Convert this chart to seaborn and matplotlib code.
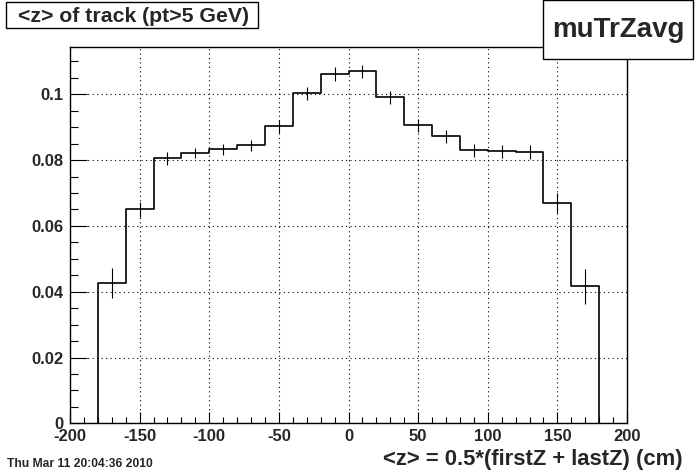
import matplotlib
matplotlib.use("Agg")
import matplotlib.pyplot as plt
from matplotlib.ticker import MultipleLocator
import seaborn as sns
import numpy as np
import pandas as pd

# bin edges of the <z> histogram (cm)
bin_edges = [-180, -160, -140, -120, -100, -80, -60, -40, -20, 0,
             20, 40, 60, 80, 100, 120, 140, 160, 180]
# normalised contents and errors
contents = [0.0426, 0.0650, 0.0805, 0.0821, 0.0833, 0.0845, 0.0903, 0.1003, 0.1062,
            0.1070, 0.0991, 0.0906, 0.0872, 0.0830, 0.0827, 0.0824, 0.0669, 0.0416]
errors = [0.0046, 0.0024, 0.0020, 0.0016, 0.0016, 0.0016, 0.0019, 0.0020, 0.0020,
          0.0020, 0.0020, 0.0020, 0.0020, 0.0020, 0.0020, 0.0022, 0.0030, 0.0054]
x_ticks = [-200, -150, -100, -50, 0, 50, 100, 150, 200]
y_ticks = [0, 0.02, 0.04, 0.06, 0.08, 0.1]
y_ticklabels = ["0", "0.02", "0.04", "0.06", "0.08", "0.1"]

edges = np.array(bin_edges, dtype=float)
centers = 0.5 * (edges[:-1] + edges[1:])
df = pd.DataFrame({"z": centers, "w": contents, "err": errors})

sns.set_style("white")
plt.rcParams["font.family"] = ["Liberation Sans", "DejaVu Sans"]
plt.rcParams["font.weight"] = "bold"
plt.rcParams["axes.unicode_minus"] = False

fig = plt.figure(figsize=(6.96, 4.72), dpi=100)
ax = fig.add_axes([70 / 696, 1 - 423.3 / 472, 557 / 696, 376 / 472])

sns.histplot(data=df, x="z", weights="w", bins=list(bin_edges), element="step", fill=False,
             color="black", linewidth=1.2, ax=ax)
# outer edges of the histogram go down to zero
ax.vlines([edges[0], edges[-1]], 0, [contents[0], contents[-1]], color="black", linewidth=1.2)
ax.vlines(df["z"], df["w"] - df["err"], df["w"] + df["err"], color="black", linewidth=0.8)

ax.set_xlim(-200, 200)
ax.set_ylim(0, 0.1143)
ax.set_xticks(x_ticks)
ax.set_yticks(y_ticks)
ax.set_yticklabels(y_ticklabels)
ax.xaxis.set_minor_locator(MultipleLocator(10))
ax.yaxis.set_minor_locator(MultipleLocator(0.005))
ax.tick_params(which="both", bottom=True, left=True, top=False, right=False, color="black")
ax.tick_params(axis="x", which="major", direction="in", length=8, width=0.8, labelsize=12, pad=4)
ax.tick_params(axis="x", which="minor", direction="in", length=4, width=0.8)
ax.tick_params(axis="y", which="major", direction="in", length=12, width=0.8, labelsize=12, pad=5)
ax.tick_params(axis="y", which="minor", direction="in", length=6, width=0.8)
ax.grid(True, which="major", color="black", linestyle=(0, (1, 3)), linewidth=0.8)
for s in ax.spines.values():
    s.set_color("black")
    s.set_linewidth(1.0)
ax.set_xlabel("")
ax.set_ylabel("")

fig.text(683 / 696, 1 - 465 / 472, "<z> = 0.5*(firstZ + lastZ) (cm)", ha="right", va="baseline",
         fontsize=15.8, fontweight="bold")
fig.text(7 / 696, 1 - 467 / 472, "Thu Mar 11 20:04:36 2010", ha="left", va="baseline",
         fontsize=8.7, fontweight="bold")

# title box
tbox = plt.Rectangle((6 / 696, 1 - 28 / 472), 252 / 696, 26 / 472, transform=fig.transFigure,
                     facecolor="white", edgecolor="black", linewidth=1, zorder=5)
fig.add_artist(tbox)
fig.text(133 / 696, 1 - 22 / 472, "<z> of track (pt>5 GeV)", ha="center", va="baseline",
         fontsize=15.3, fontweight="bold", zorder=6)

# stats-box style label in the top right corner
box = plt.Rectangle((543 / 696, 1 - 59 / 472), 150 / 696, 59 / 472, transform=fig.transFigure,
                    facecolor="white", edgecolor="black", linewidth=1, zorder=5)
fig.add_artist(box)
fig.text(618 / 696, 1 - 37 / 472, "muTrZavg", ha="center", va="baseline", fontsize=20,
         fontweight="bold", zorder=6)

fig.savefig("out.png", dpi=100)
